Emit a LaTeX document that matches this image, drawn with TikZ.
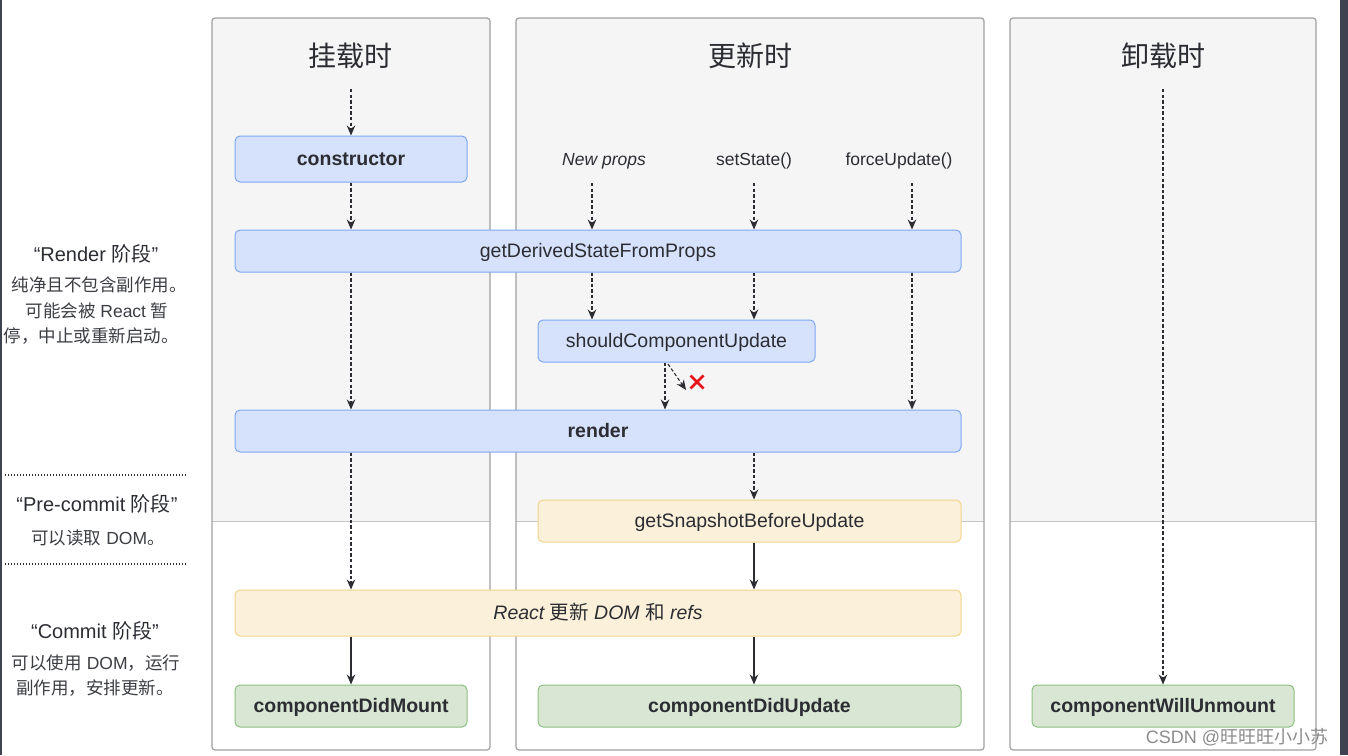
\documentclass[tikz,border=0pt]{standalone}
\usepackage{fontspec}
\setmainfont{Liberation Sans}
\newfontfamily\cjk{Noto Sans CJK SC}
\usetikzlibrary{arrows.meta}
\definecolor{txt}{HTML}{2B2D33}
\definecolor{panelbg}{HTML}{F5F5F5}
\definecolor{panelbd}{HTML}{A0A0A0}
\definecolor{divline}{HTML}{C4C4C4}
\definecolor{bluefill}{HTML}{D6E2FB}
\definecolor{bluebd}{HTML}{7FA8F3}
\definecolor{yelfill}{HTML}{FBF0D9}
\definecolor{yelbd}{HTML}{F3D48C}
\definecolor{grnfill}{HTML}{D9E6D3}
\definecolor{grnbd}{HTML}{8DBF82}
\definecolor{darkstrip}{HTML}{3F4250}
\definecolor{xred}{HTML}{E8141B}
\tikzset{
  boxbase/.style={rounded corners=5pt, line width=1pt, text=txt, inner sep=0pt,
    text height=15pt, text depth=3pt, font=\fontsize{19.5}{22}\selectfont},
  bluebox/.style={boxbase, draw=bluebd, fill=bluefill},
  yelbox/.style={boxbase, draw=yelbd, fill=yelfill},
  grnbox/.style={boxbase, draw=grnbd, fill=grnfill},
  boldlbl/.style={font=\bfseries\fontsize{19.5}{22}\selectfont},
  dasharrow/.style={draw=txt, line width=1.1pt, dash pattern=on 3.4pt off 2.2pt,
    -{Stealth[length=10pt,width=8.5pt]}},
  solidarrow/.style={draw=txt, line width=1.2pt, -{Stealth[length=10pt,width=8.5pt]}},
  titletxt/.style={text=txt, font=\cjk\fontsize{28}{32}\selectfont},
  trigtxt/.style={text=txt, font=\fontsize{17.5}{20}\selectfont},
  headtxt/.style={text=txt, font=\fontsize{20}{22}\selectfont},
  bodytxt/.style={text=txt!92!white, font=\fontsize{17.5}{20}\selectfont},
  dotline/.style={draw=txt, line width=1.7pt, dash pattern=on 1.4pt off 1.6pt},
  panelbox/.style={draw=panelbd, line width=1.2pt, rounded corners=3pt},
}
\begin{document}
\begin{tikzpicture}[x=1pt,y=-1pt]
\useasboundingbox (0,0) rectangle (1348,755);
\fill[white] (0,0) rectangle (1348,755);
% dark edges
\fill[darkstrip] (0,0) rectangle (2,755);
\fill[darkstrip] (1340,0) rectangle (1348,755);

% panels
\foreach \xa/\xb in {212/490, 516/984, 1010/1316}{
  \fill[panelbg, rounded corners=3pt] (\xa,521) -- (\xa,18) -- (\xb,18) -- (\xb,521) -- cycle;
  \draw[divline, line width=1pt] (\xa,521) -- (\xb,521);
  \draw[panelbox] (\xa,18) rectangle (\xb,750);
}

% titles
\node[titletxt] (t1) at (350,56) {挂载时};
\node[titletxt] (t2) at (750,56) {更新时};
\node[titletxt] (t3) at (1163,56) {卸载时};

% boxes
\node[bluebox, boldlbl, minimum width=232pt, minimum height=46pt] (ctor) at (351,159) {constructor};
\node[bluebox, minimum width=726pt, minimum height=42pt] (gd) at (598,251) {getDerivedStateFromProps};
\node[bluebox, minimum width=277pt, minimum height=42pt] (scu) at (676.5,341) {shouldComponentUpdate};
\node[bluebox, boldlbl, minimum width=726pt, minimum height=42pt] (render) at (598,431) {render};
\node[yelbox, minimum width=423pt, minimum height=42pt] (gsbu) at (749.5,521) {getSnapshotBeforeUpdate};
\node[yelbox, minimum width=726pt, minimum height=46pt, font=\itshape\fontsize{19.5}{22}\selectfont] (rdom) at (598,613) {React {\cjk\itshape 更新} DOM {\cjk\itshape 和} refs};
\node[grnbox, boldlbl, minimum width=232pt, minimum height=42pt] (cdm) at (351,706) {componentDidMount};
\node[grnbox, boldlbl, minimum width=423pt, minimum height=42pt] (cdu) at (749.5,706) {componentDidUpdate};
\node[grnbox, boldlbl, minimum width=262pt, minimum height=42pt] (cwu) at (1163,706) {componentWillUnmount};

% trigger labels
\node[trigtxt, font=\itshape\fontsize{17.5}{20}\selectfont] (np) at (604,161) {New props};
\node[trigtxt] (ss) at (754,161) {setState()};
\node[trigtxt] (fu) at (899,161) {forceUpdate()};

% column coordinates
\coordinate (m0) at (351,89);
\coordinate (u0) at (1163,89);
\coordinate (cNP) at (592,183);
\coordinate (cSS) at (754,183);
\coordinate (cFU) at (912,183);
\coordinate (cR) at (665,0);
\coordinate (xs) at (668,364);
\coordinate (xe) at (686,390);

% mount arrows
\draw[dasharrow] (m0) -- (ctor.north);
\draw[dasharrow] (ctor.south) -- (gd.north -| ctor.south);
\draw[dasharrow] (gd.south -| ctor.south) -- (render.north -| ctor.south);
\draw[dasharrow] (render.south -| ctor.south) -- (rdom.north -| ctor.south);
\draw[solidarrow] (rdom.south -| ctor.south) -- (cdm.north);

% update arrows
\draw[dasharrow] (cNP) -- (gd.north -| cNP);
\draw[dasharrow] (cSS) -- (gd.north -| cSS);
\draw[dasharrow] (cFU) -- (gd.north -| cFU);
\draw[dasharrow] (gd.south -| cNP) -- (scu.north -| cNP);
\draw[dasharrow] (gd.south -| cSS) -- (scu.north -| cSS);
\draw[dasharrow] (gd.south -| cFU) -- (render.north -| cFU);
\draw[dasharrow] (scu.south -| cR) -- (render.north -| cR);
\draw[dasharrow] (xs) -- (xe);
\draw[xred, line width=2.8pt] (690.5,375.5) -- (703.5,388.5) (703.5,375.5) -- (690.5,388.5);
\draw[dasharrow] (render.south -| cSS) -- (gsbu.north -| cSS);
\draw[solidarrow] (gsbu.south -| cSS) -- (rdom.north -| cSS);
\draw[solidarrow] (rdom.south -| cSS) -- (cdu.north -| cSS);

% unmount arrow
\draw[dasharrow] (u0) -- (cwu.north);

% left phase labels
\node[headtxt] (h1) at (96,254) {“Render {\cjk 阶段}”};
\node[bodytxt] (b11) at (99,285) {\cjk 纯净且不包含副作用。};
\node[bodytxt] (b12) at (97,311) {{\cjk 可能会被} React {\cjk 暂}};
\node[bodytxt] (b13) at (91,336) {\cjk 停，中止或重新启动。};

\coordinate (d1a) at (5,475);
\coordinate (d1b) at (187,475);
\coordinate (d2a) at (5,564);
\coordinate (d2b) at (187,564);
\draw[dotline] (d1a) -- (d1b);
\draw[dotline] (d2a) -- (d2b);

\node[headtxt] (h2) at (97,504) {“Pre-commit {\cjk 阶段}”};
\node[bodytxt] (b21) at (98,538) {{\cjk 可以读取} DOM{\cjk 。}};

\node[headtxt] (h3) at (95,631) {“Commit {\cjk 阶段}”};
\node[bodytxt] (b31) at (96,663) {{\cjk 可以使用} DOM{\cjk ，运行}};
\node[bodytxt] (b32) at (95,688) {\cjk 副作用，安排更新。};

% watermark
\node[text=black!45, font=\fontsize{18}{20}\selectfont] (wm) at (1237,737) {CSDN @{\cjk 旺旺旺小小苏}};
\end{tikzpicture}
\end{document}
